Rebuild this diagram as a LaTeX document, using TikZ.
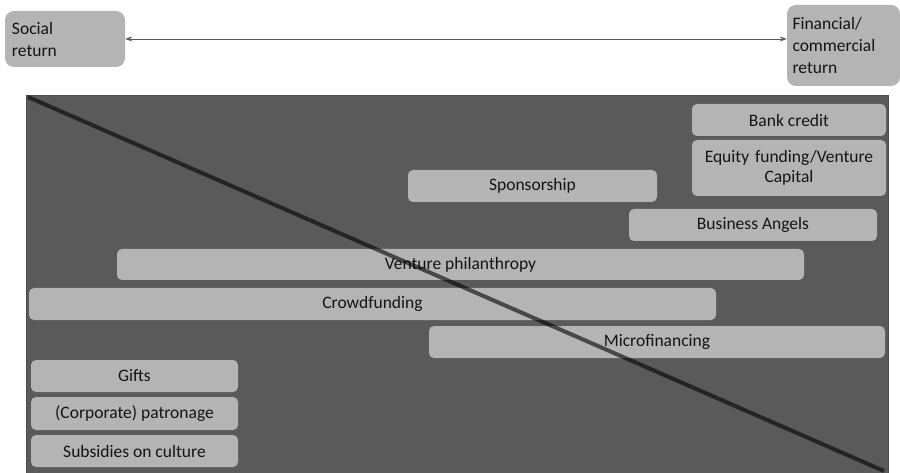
\documentclass[tikz,border=0pt]{standalone}
\usepackage{fontspec}
\setmainfont{Carlito}
\usetikzlibrary{arrows.meta}
\definecolor{framegray}{HTML}{5A5A5A}
\definecolor{boxgray}{HTML}{B4B4B4}
\definecolor{txtgray}{HTML}{141414}
\begin{document}
\begin{tikzpicture}[x=1pt,y=-1pt,
  fund/.style={fill=boxgray,draw=none,rounded corners=5pt,inner sep=0pt,text=txtgray,font=\fontsize{17.5}{20}\selectfont,align=center},
  endbox/.style={fill=boxgray,draw=none,rounded corners=9pt,inner sep=0pt,text=txtgray,font=\fontsize{17.5}{22}\selectfont,align=left}]
\useasboundingbox (0,0) rectangle (900,473);
\fill[white] (0,0) rectangle (900,473);
\fill[framegray] (26,96) rectangle (888,473);
\draw[black!70,line width=1pt] (26,473) -- (26,96) -- (888,96) -- (888,473);
% end boxes
\node[endbox,minimum width=120pt,minimum height=56pt,text width=106pt] (soc) at (65,39) {Social\\return};
\node[endbox,minimum width=113pt,minimum height=81pt,text width=102pt] (fin) at (843.5,45.5) {Financial/\\commercial\\return};
\draw[{Stealth[length=7pt,width=5pt]}-{Stealth[length=7pt,width=5pt]},gray!70!black,line width=0.9pt] (soc.east) -- (fin.west|-soc.east);
% funding boxes
\node[fund,minimum width=194pt,minimum height=32pt] (bank) at (789,120) {Bank credit};
\node[fund,minimum width=194pt,minimum height=56pt,text width=190pt] (equity) at (789,168) {Equity funding/Venture\\Capital};
\node[fund,minimum width=249pt,minimum height=32pt] (spons) at (532.5,186) {Sponsorship};
\node[fund,minimum width=248pt,minimum height=32pt] (angels) at (753,225) {Business Angels};
\node[fund,minimum width=687pt,minimum height=31pt] (vphil) at (460.5,264.5) {Venture philanthropy};
\node[fund,minimum width=687pt,minimum height=32pt] (crowd) at (372.5,304) {Crowdfunding};
\node[fund,minimum width=456pt,minimum height=32pt] (micro) at (657,342) {Microfinancing};
\node[fund,minimum width=207pt,minimum height=32pt] (gifts) at (134.5,376) {Gifts};
\node[fund,minimum width=207pt,minimum height=33pt] (patron) at (134.5,413.5) {(Corporate) patronage};
\node[fund,minimum width=207pt,minimum height=32pt] (subs) at (134.5,451) {Subsidies on culture};
% diagonal
\coordinate (d1) at (28,97);
\coordinate (d2) at (884,471);
\draw[black,opacity=0.6,line width=4pt] (d1) -- (d2);
\end{tikzpicture}
\end{document}
